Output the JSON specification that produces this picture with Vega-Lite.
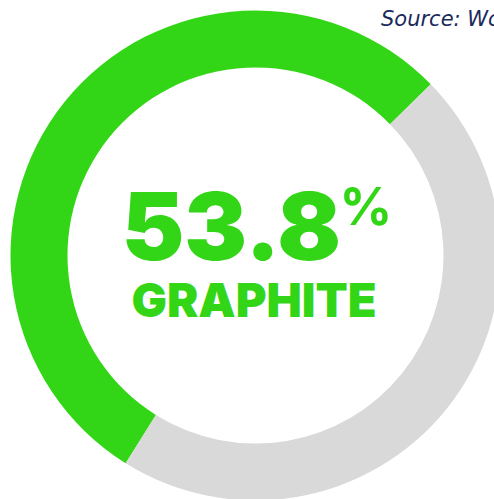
{
  "$schema": "https://vega.github.io/schema/vega-lite/v6.json",
  "width": 477,
  "height": 487,
  "autosize": {"type": "none"},
  "padding": {"left": 17, "top": 12, "right": 0, "bottom": 0},
  "background": "white",
  "config": {"view": {"stroke": null}},
  "layer": [
    {
      "data": {"values": [
        {"category": "Graphite", "share": 53.8, "order": 1},
        {"category": "Other", "share": 46.2, "order": 2}
      ]},
      "mark": {"type": "arc", "innerRadius": 188, "outerRadius": 245},
      "encoding": {
        "theta": {"field": "share", "type": "quantitative", "stack": true, "scale": {"range": [3.7, 9.9832]}},
        "order": {"field": "order", "type": "quantitative"},
        "color": {"field": "category", "type": "nominal", "scale": {"domain": ["Graphite", "Other"], "range": ["#32D616", "#D9D9D9"]}, "legend": null}
      }
    },
    {
      "data": {"values": [{"label": "53.8"}]},
      "mark": {"type": "text", "font": "Inter", "fontWeight": 900, "fontSize": 94, "align": "right", "baseline": "alphabetic", "dx": 85.5, "dy": 4.5, "color": "#32D616"},
      "encoding": {"text": {"field": "label", "type": "nominal"}}
    },
    {
      "data": {"values": [{"label": "%"}]},
      "mark": {"type": "text", "font": "Inter", "fontWeight": 700, "fontSize": 52, "align": "left", "baseline": "alphabetic", "dx": 84, "dy": -30.5, "color": "#32D616"},
      "encoding": {"text": {"field": "label", "type": "nominal"}}
    },
    {
      "data": {"values": [{"label": "GRAPHITE"}]},
      "mark": {"type": "text", "font": "Inter", "fontWeight": 900, "fontSize": 47, "align": "center", "baseline": "alphabetic", "dx": -1.5, "dy": 61.5, "color": "#32D616"},
      "encoding": {"text": {"field": "label", "type": "nominal"}}
    },
    {
      "data": {"values": [{"label": "Source: Wood Mackenzie"}]},
      "mark": {"type": "text", "font": "DejaVu Sans", "fontStyle": "italic", "fontSize": 21, "align": "left", "baseline": "alphabetic", "dx": 125.5, "dy": -229.5, "color": "#1B2A5C"},
      "encoding": {"text": {"field": "label", "type": "nominal"}}
    }
  ]
}
